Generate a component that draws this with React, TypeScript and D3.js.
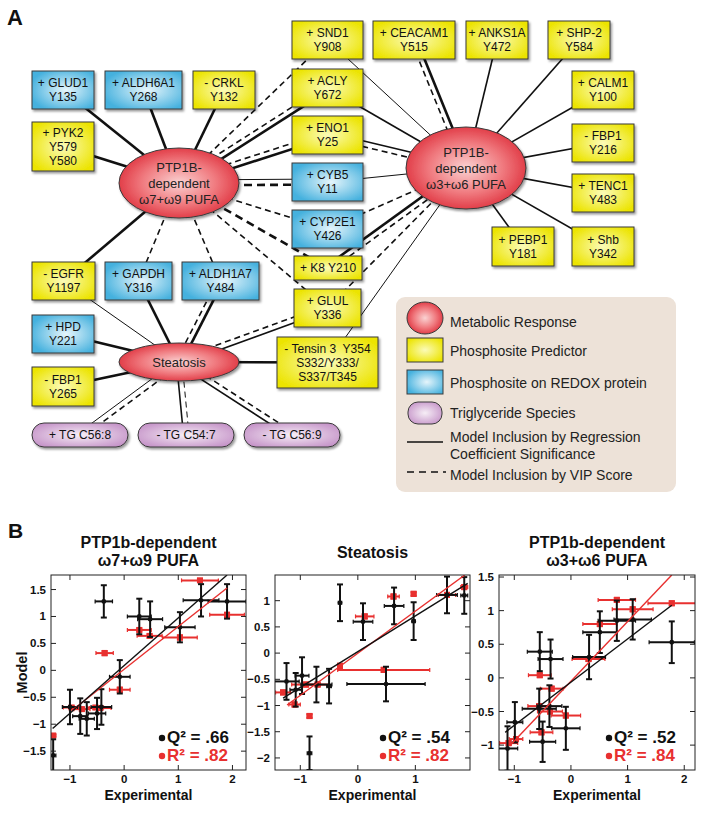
import React from "react";
import * as d3 from "d3";

const W = 704;
const H = 813;
const FONT = "'Liberation Sans', Arial, Helvetica, sans-serif";
const RED = "#e8302f";

// ---------------- Panel A data ----------------
const responseNodes = [
  { id: "L", lines: ["PTP1B-", "dependent", "ω7+ω9 PUFA"] },
  { id: "R", lines: ["PTP1B-", "dependent", "ω3+ω6 PUFA"] },
  { id: "S", lines: ["Steatosis"] },
];

const phosphoNodes = [
  { id: "SND1", kind: "y", lines: ["+ SND1", "Y908"] },
  { id: "ACLY", kind: "y", lines: ["+ ACLY", "Y672"] },
  { id: "ENO1", kind: "y", lines: ["+ ENO1", "Y25"] },
  { id: "CYB5", kind: "b", lines: ["+ CYB5", "Y11"] },
  { id: "CYP2E1", kind: "b", lines: ["+ CYP2E1", "Y426"] },
  { id: "K8", kind: "y", lines: ["+ K8 Y210"] },
  { id: "GLUL", kind: "y", lines: ["+ GLUL", "Y336"] },
  { id: "Tensin", kind: "y", lines: ["- Tensin 3  Y354", "S332/Y333/", "S337/T345"] },
  { id: "CEACAM1", kind: "y", lines: ["+ CEACAM1", "Y515"] },
  { id: "ANKS1A", kind: "y", lines: ["+ ANKS1A", "Y472"] },
  { id: "SHP2", kind: "y", lines: ["+ SHP-2", "Y584"] },
  { id: "CALM1", kind: "y", lines: ["+ CALM1", "Y100"] },
  { id: "FBP1a", kind: "y", lines: ["- FBP1", "Y216"] },
  { id: "TENC1", kind: "y", lines: ["+ TENC1", "Y483"] },
  { id: "Shb", kind: "y", lines: ["+ Shb", "Y342"] },
  { id: "PEBP1", kind: "y", lines: ["+ PEBP1", "Y181"] },
  { id: "GLUD1", kind: "b", lines: ["+ GLUD1", "Y135"] },
  { id: "ALDH6A1", kind: "b", lines: ["+ ALDH6A1", "Y268"] },
  { id: "CRKL", kind: "y", lines: ["- CRKL", "Y132"] },
  { id: "PYK2", kind: "y", lines: ["+ PYK2", "Y579", "Y580"] },
  { id: "EGFR", kind: "y", lines: ["- EGFR", "Y1197"] },
  { id: "GAPDH", kind: "b", lines: ["+ GAPDH", "Y316"] },
  { id: "ALDH1A7", kind: "b", lines: ["+ ALDH1A7", "Y484"] },
  { id: "HPD", kind: "b", lines: ["+ HPD", "Y221"] },
  { id: "FBP1b", kind: "y", lines: ["- FBP1", "Y265"] },
  { id: "TG1", kind: "p", lines: ["+ TG C56:8"] },
  { id: "TG2", kind: "p", lines: ["- TG C54:7"] },
  { id: "TG3", kind: "p", lines: ["- TG C56:9"] },
];

// source, target, style (s solid / d dashed), weight class
const edges: [string, string, string, string][] = [
  ["L", "GLUD1", "s", "thick"],
  ["L", "ALDH6A1", "s", "thick"],
  ["L", "CRKL", "s", "thick"],
  ["L", "PYK2", "s", "thick"],
  ["L", "SND1", "d", "mid"],
  ["L", "ACLY", "s", "thick"],
  ["L", "ACLY", "d", "mid"],
  ["L", "ENO1", "s", "thick"],
  ["L", "ENO1", "d", "mid"],
  ["L", "CYB5", "d", "thick"],
  ["L", "CYB5", "s", "thin"],
  ["L", "CYP2E1", "d", "mid"],
  ["L", "K8", "d", "thick"],
  ["L", "GLUL", "d", "mid"],
  ["L", "EGFR", "s", "thick"],
  ["L", "GAPDH", "d", "mid"],
  ["L", "ALDH1A7", "d", "mid"],
  ["R", "SND1", "s", "thin"],
  ["R", "CEACAM1", "s", "thick"],
  ["R", "CEACAM1", "d", "mid"],
  ["R", "ANKS1A", "s", "mid"],
  ["R", "SHP2", "s", "mid"],
  ["R", "CALM1", "s", "mid"],
  ["R", "FBP1a", "s", "mid"],
  ["R", "TENC1", "s", "mid"],
  ["R", "Shb", "s", "mid"],
  ["R", "PEBP1", "s", "mid"],
  ["R", "ACLY", "s", "mid"],
  ["R", "ENO1", "s", "mid"],
  ["R", "ENO1", "d", "mid"],
  ["R", "CYB5", "s", "thin"],
  ["R", "CYP2E1", "d", "mid"],
  ["R", "K8", "s", "thick"],
  ["R", "K8", "d", "mid"],
  ["R", "GLUL", "d", "mid"],
  ["R", "Tensin", "s", "thin"],
  ["S", "EGFR", "s", "thin"],
  ["S", "GAPDH", "s", "thick"],
  ["S", "ALDH1A7", "s", "thick"],
  ["S", "ALDH1A7", "d", "mid"],
  ["S", "HPD", "s", "thick"],
  ["S", "FBP1b", "s", "thick"],
  ["S", "GLUL", "s", "mid"],
  ["S", "GLUL", "d", "mid"],
  ["S", "Tensin", "s", "thick"],
  ["S", "TG1", "s", "thin"],
  ["S", "TG1", "d", "mid"],
  ["S", "TG2", "s", "mid"],
  ["S", "TG2", "d", "thin"],
  ["S", "TG3", "s", "mid"],
  ["S", "TG3", "d", "mid"],
];

const legendItems = [
  { kind: "e", lines: ["Metabolic Response"] },
  { kind: "y", lines: ["Phosphosite Predictor"] },
  { kind: "b", lines: ["Phosphosite on REDOX protein"] },
  { kind: "p", lines: ["Triglyceride Species"] },
  { kind: "s", lines: ["Model Inclusion by Regression", "Coefficient Significance"] },
  { kind: "d", lines: ["Model Inclusion by VIP Score"] },
];

// ---------------- Panel A layout ----------------
const responseLayout: Record<string, [number, number, number, number]> = {
  L: [179, 183, 60, 35],
  R: [466, 168, 60, 41],
  S: [179, 362, 60, 19],
};
const boxLayout: Record<string, [number, number, number, number]> = {
  SND1: [292, 21, 71, 38],
  ACLY: [292, 69, 71, 38],
  ENO1: [292, 116, 71, 38],
  CYB5: [292, 163, 71, 38],
  CYP2E1: [292, 210, 71, 38],
  K8: [294, 256, 68, 24],
  GLUL: [294, 289, 67, 38],
  Tensin: [277, 337, 101, 51],
  CEACAM1: [373, 21, 82, 38],
  ANKS1A: [466, 21, 62, 38],
  SHP2: [548, 21, 62, 38],
  CALM1: [572, 71, 62, 38],
  FBP1a: [572, 124, 62, 38],
  TENC1: [572, 174, 62, 38],
  Shb: [572, 227, 62, 39],
  PEBP1: [492, 227, 62, 39],
  GLUD1: [32, 71, 62, 38],
  ALDH6A1: [105, 71, 77, 38],
  CRKL: [193, 71, 62, 38],
  PYK2: [32, 122, 62, 49],
  EGFR: [32, 262, 63, 38],
  GAPDH: [105, 262, 67, 38],
  ALDH1A7: [182, 262, 77, 38],
  HPD: [32, 315, 62, 38],
  FBP1b: [32, 367, 62, 39],
  TG1: [32, 423, 96, 24],
  TG2: [138, 423, 96, 24],
  TG3: [244, 423, 96, 24],
};
const weightWidth: Record<string, number> = { thick: 2.6, mid: 1.6, thin: 1.0 };

// ---------------- Panel B data ----------------
// [experimental, model, xErr, yErr]
const omega79Q: number[][] = [
  [-0.375, 1.28, 0.16, 0.3],
  [0.28, 1.0, 0.22, 0.33],
  [0.48, 0.95, 0.23, 0.33],
  [1.03, 0.8, 0.28, 0.28],
  [1.42, 1.3, 0.33, 0.3],
  [1.9, 1.28, 0.35, 0.32],
  [-0.08, -0.12, 0.19, 0.31],
  [-1.0, -0.68, 0.14, 0.32],
  [-0.81, -0.85, 0.14, 0.33],
  [-0.69, -0.9, 0.14, 0.31],
  [-0.5, -0.8, 0.16, 0.29],
  [-0.42, -0.68, 0.19, 0.33],
  [-1.31, -1.58, 0.05, 0.3],
];
const omega79R: number[][] = [
  [1.4, 1.67, 0.34, 0.03],
  [1.9, 1.03, 0.32, 0.04],
  [0.28, 0.75, 0.22, 0.03],
  [0.47, 0.64, 0.23, 0.03],
  [1.03, 0.61, 0.32, 0.04],
  [-0.36, 0.32, 0.16, 0.04],
  [-0.08, -0.36, 0.19, 0.04],
  [-1.31, -1.21, 0.05, 0.03],
  [-0.97, -0.69, 0.15, 0.03],
  [-0.78, -0.72, 0.15, 0.03],
  [-0.53, -0.69, 0.15, 0.03],
  [-0.44, -0.7, 0.2, 0.03],
];
const omega79LineQ = [[-1.32, -1.08], [1.9, 1.77]];
const omega79LineR = [[-0.97, -0.75], [1.9, 1.53]];

const steatosisQ: number[][] = [
  [-0.31, 0.96, 0.03, 0.35],
  [0.09, 0.6, 0.17, 0.35],
  [0.63, 0.9, 0.17, 0.35],
  [0.97, 0.61, 0.03, 0.36],
  [1.55, 1.11, 0.18, 0.35],
  [1.85, 1.1, 0.06, 0.35],
  [0.49, -0.59, 0.68, 0.33],
  [-1.24, -0.54, 0.22, 0.35],
  [-1.08, -0.7, 0.1, 0.32],
  [-0.97, -0.43, 0.12, 0.35],
  [-0.72, -0.6, 0.27, 0.34],
  [-0.5, -0.63, 0.04, 0.33],
  [-0.84, -1.91, 0.04, 0.32],
];
const steatosisR: number[][] = [
  [0.12, 0.7, 0.16, 0.04],
  [0.62, 1.08, 0.1, 0.04],
  [0.97, 1.13, 0.04, 0.04],
  [1.55, 1.11, 0.15, 0.04],
  [1.85, 1.26, 0.06, 0.04],
  [-0.31, -0.25, 0.03, 0.05],
  [0.45, -0.32, 0.8, 0.04],
  [-1.3, -0.75, 0.13, 0.04],
  [-1.1, -0.98, 0.1, 0.04],
  [-0.84, -1.2, 0.04, 0.04],
  [-0.9, -0.6, 0.25, 0.04],
  [-0.7, -0.6, 0.2, 0.04],
];
const steatosisLineQ = [[-1.3, -0.86], [1.91, 1.33]];
const steatosisLineR = [[-1.23, -0.99], [1.86, 1.49]];

const omega36Q: number[][] = [
  [-1.12, -1.05, 0.18, 0.33],
  [-0.99, -0.66, 0.14, 0.3],
  [-0.55, 0.39, 0.22, 0.29],
  [-0.36, 0.28, 0.22, 0.29],
  [-0.56, -0.46, 0.3, 0.3],
  [-0.38, -0.42, 0.22, 0.31],
  [-0.5, -0.95, 0.23, 0.3],
  [-0.09, -0.75, 0.25, 0.32],
  [0.32, 0.31, 0.29, 0.33],
  [0.51, 0.68, 0.3, 0.31],
  [0.81, 0.85, 0.33, 0.3],
  [1.09, 0.87, 0.33, 0.3],
  [1.78, 0.53, 0.4, 0.31],
];
const omega36R: number[][] = [
  [-1.1, -0.97, 0.16, 0.03],
  [-0.97, -0.91, 0.12, 0.03],
  [-0.55, 0.04, 0.2, 0.03],
  [-0.34, -0.16, 0.2, 0.03],
  [-0.56, -0.42, 0.2, 0.03],
  [-0.37, -0.5, 0.22, 0.03],
  [-0.52, -0.81, 0.2, 0.03],
  [-0.09, -0.56, 0.26, 0.03],
  [0.31, 0.28, 0.29, 0.03],
  [0.51, 0.8, 0.3, 0.03],
  [0.81, 1.16, 0.33, 0.03],
  [1.09, 1.02, 0.36, 0.03],
  [1.78, 1.11, 0.42, 0.03],
];
const omega36LineQ = [[-1.16, -0.81], [1.78, 1.08]];
const omega36LineR = [[-1.08, -1.01], [1.78, 1.53]];

const ticks79X = [-1, 0, 1, 2];
const ticks79Y = [-1.5, -1, -0.5, 0, 0.5, 1, 1.5];
const ticksStX = [-1, 0, 1];
const ticksStY = [-2, -1.5, -1, -0.5, 0, 0.5, 1];
const ticks36X = [-1, 0, 1, 2];
const ticks36Y = [-1, -0.5, 0, 0.5, 1, 1.5];

// ---------------- Panel A components ----------------
function center(id: string): [number, number] {
  if (responseLayout[id]) return [responseLayout[id][0], responseLayout[id][1]];
  const b = boxLayout[id];
  return [b[0] + b[2] / 2, b[1] + b[3] / 2];
}

const gradId: Record<string, string> = { y: "gY", b: "gB", p: "gP", e: "gE" };

function Network() {
  const pairCount: Record<string, number> = {};
  edges.forEach(([s, t]) => {
    const k = s + "-" + t;
    pairCount[k] = (pairCount[k] || 0) + 1;
  });
  const pairSeen: Record<string, number> = {};
  return (
    <g>
      <g>
        {edges.map(([s, t, st, w], i) => {
          const k = s + "-" + t;
          const n = pairCount[k];
          const idx = pairSeen[k] || 0;
          pairSeen[k] = idx + 1;
          const off = n > 1 ? (idx === 0 ? 2.5 : -3) : 0;
          const [x1, y1] = center(s);
          const [x2, y2] = center(t);
          const len = Math.hypot(x2 - x1, y2 - y1);
          const nx = -(y2 - y1) / len;
          const ny = (x2 - x1) / len;
          const sw = weightWidth[w];
          return (
            <line
              key={i}
              x1={x1 + nx * off}
              y1={y1 + ny * off}
              x2={x2 + nx * off}
              y2={y2 + ny * off}
              stroke="#111"
              strokeWidth={sw}
              strokeDasharray={st === "d" ? (sw > 2 ? "8,5" : "6,4") : undefined}
            />
          );
        })}
      </g>
      <g>
        {phosphoNodes.map((nd) => {
          const [bx, by, bw, bh] = boxLayout[nd.id];
          const cx = bx + bw / 2;
          const cy = by + bh / 2;
          const nL = nd.lines.length;
          const sp = nL === 3 ? 13.7 : 14;
          return (
            <g key={nd.id}>
              <rect
                x={bx}
                y={by}
                width={bw}
                height={bh}
                rx={nd.kind === "p" ? 12 : 0}
                fill={`url(#${gradId[nd.kind]})`}
                stroke="#3a3a3a"
                strokeWidth={1}
                filter="url(#shadow)"
              />
              <text
                fontFamily={FONT}
                fontSize={12}
                textAnchor="middle"
                fill="#111"
                style={{ whiteSpace: "pre" }}
              >
                {nd.lines.map((ln, i) => (
                  <tspan key={i} x={cx} y={cy + 4.3 + (i - (nL - 1) / 2) * sp}>
                    {ln}
                  </tspan>
                ))}
              </text>
            </g>
          );
        })}
      </g>
      <g>
        {responseNodes.map((nd) => {
          const [cx, cy, rx, ry] = responseLayout[nd.id];
          const nL = nd.lines.length;
          return (
            <g key={nd.id}>
              <ellipse
                cx={cx}
                cy={cy}
                rx={rx}
                ry={ry}
                fill="url(#gE)"
                stroke="#3a3a3a"
                strokeWidth={1}
                filter="url(#shadow)"
              />
              <text fontFamily={FONT} fontSize={13} textAnchor="middle" fill="#222">
                {nd.lines.map((ln, i) => (
                  <tspan key={i} x={cx} y={cy + 5 + (i - (nL - 1) / 2) * 16}>
                    {ln}
                  </tspan>
                ))}
              </text>
            </g>
          );
        })}
      </g>
    </g>
  );
}

function Legend() {
  const bx = 396, by = 297, bw = 280, bh = 195;
  const rowY = [318, 350, 382, 413, 442, 472];
  const textY = [327, 356, 388, 418, 442, 480];
  return (
    <g>
      <rect x={bx} y={by} width={bw} height={bh} rx={9} fill="#ede2d8" />
      {legendItems.map((it, i) => {
        const y = rowY[i];
        let sym: React.ReactNode = null;
        if (it.kind === "e")
          sym = <ellipse cx={425} cy={y} rx={18} ry={16} fill="url(#gE)" stroke="#3a3a3a" />;
        else if (it.kind === "y" || it.kind === "b")
          sym = <rect x={407} y={y - 12} width={36} height={24} fill={`url(#${gradId[it.kind]})`} stroke="#3a3a3a" />;
        else if (it.kind === "p")
          sym = <rect x={408} y={y - 11} width={34} height={22} rx={10} fill="url(#gP)" stroke="#3a3a3a" />;
        else if (it.kind === "s")
          sym = <line x1={407} x2={443} y1={y} y2={y} stroke="#111" strokeWidth={1.5} />;
        else
          sym = <line x1={407} x2={446} y1={y} y2={y} stroke="#111" strokeWidth={1.5} strokeDasharray="7,5" />;
        return (
          <g key={i}>
            {sym}
            <text fontFamily={FONT} fontSize={14} fill="#222">
              {it.lines.map((ln, j) => (
                <tspan key={j} x={450} y={textY[i] + j * 17}>
                  {ln}
                </tspan>
              ))}
            </text>
          </g>
        );
      })}
    </g>
  );
}

// ---------------- Panel B components ----------------
type ScatterProps = {
  id: string;
  box: [number, number, number, number];
  xDom: [number, number];
  yDom: [number, number];
  xTicks: number[];
  yTicks: number[];
  q: number[][];
  r: number[][];
  lineQ: number[][];
  lineR: number[][];
  qText: string;
  rText: string;
  title: string[];
  yLabel: boolean;
  legendX: number;
};

const fmt = (v: number) => (v < 0 ? "\u2212" : "") + String(Math.abs(v));

function ErrPoint({ d, x, y, color, square }: any) {
  const [vx, vy, ex, ey] = d;
  const px = x(vx);
  const py = y(vy);
  const cap = 3;
  return (
    <g stroke={color} strokeWidth={2}>
      <line x1={x(vx - ex)} x2={x(vx + ex)} y1={py} y2={py} />
      <line x1={px} x2={px} y1={y(vy + ey)} y2={y(vy - ey)} />
      <line x1={px - cap} x2={px + cap} y1={y(vy + ey)} y2={y(vy + ey)} />
      <line x1={px - cap} x2={px + cap} y1={y(vy - ey)} y2={y(vy - ey)} />
      <line x1={x(vx - ex)} x2={x(vx - ex)} y1={py - 2} y2={py + 2} strokeWidth={1.2} />
      <line x1={x(vx + ex)} x2={x(vx + ex)} y1={py - 2} y2={py + 2} strokeWidth={1.2} />
      {square ? (
        <rect x={px - 3} y={py - 3} width={6} height={6} fill={color} stroke="none" />
      ) : (
        <circle cx={px} cy={py} r={2.4} fill={color} stroke="none" />
      )}
    </g>
  );
}

function Scatter(p: ScatterProps) {
  const [l, t, rgt, b] = p.box;
  const x = d3.scaleLinear().domain(p.xDom).range([l, rgt]);
  const y = d3.scaleLinear().domain(p.yDom).range([b, t]);
  const line = d3
    .line<number[]>()
    .x((d) => x(d[0]))
    .y((d) => y(d[1]));
  const cx = (l + rgt) / 2;
  const tk = 5;
  return (
    <g>
      <defs>
        <clipPath id={"clip" + p.id}>
          <rect x={l} y={t} width={rgt - l} height={b - t} />
        </clipPath>
      </defs>
      <rect x={l} y={t} width={rgt - l} height={b - t} fill="#fff" />
      <g clipPath={`url(#clip${p.id})`}>
        {p.r.map((d, i) => (
          <ErrPoint key={"r" + i} d={d} x={x} y={y} color={RED} square />
        ))}
        {p.q.map((d, i) => (
          <ErrPoint key={"q" + i} d={d} x={x} y={y} color="#111" />
        ))}
        <path d={line(p.lineR) || ""} stroke={RED} strokeWidth={1.4} fill="none" />
        <path d={line(p.lineQ) || ""} stroke="#111" strokeWidth={1.4} fill="none" />
      </g>
      <rect x={l} y={t} width={rgt - l} height={b - t} fill="none" stroke="#222" strokeWidth={1} />
      {p.xTicks.map((v) => (
        <g key={"x" + v}>
          <line x1={x(v)} x2={x(v)} y1={b} y2={b - tk} stroke="#222" />
          <line x1={x(v)} x2={x(v)} y1={t} y2={t + tk} stroke="#222" />
          <text x={x(v)} y={b + 13} textAnchor="middle" fontFamily={FONT} fontWeight="bold" fontSize={11.5} fill="#111">
            {fmt(v)}
          </text>
        </g>
      ))}
      {p.yTicks.map((v) => (
        <g key={"y" + v}>
          <line x1={l} x2={l + tk} y1={y(v)} y2={y(v)} stroke="#222" />
          <line x1={rgt} x2={rgt - tk} y1={y(v)} y2={y(v)} stroke="#222" />
          <text x={l - 5} y={y(v) + 4} textAnchor="end" fontFamily={FONT} fontWeight="bold" fontSize={11.5} fill="#111">
            {fmt(v)}
          </text>
        </g>
      ))}
      <text fontFamily={FONT} fontWeight="bold" fontSize={16} textAnchor="middle" fill="#111">
        {p.title.length === 2 ? (
          <>
            <tspan x={cx} y={548}>{p.title[0]}</tspan>
            <tspan x={cx} y={566}>{p.title[1]}</tspan>
          </>
        ) : (
          <tspan x={cx} y={558}>{p.title[0]}</tspan>
        )}
      </text>
      <text x={cx} y={800} textAnchor="middle" fontFamily={FONT} fontWeight="bold" fontSize={14} fill="#111">
        Experimental
      </text>
      {p.yLabel && (
        <text
          transform={`translate(27,${(t + b) / 2}) rotate(-90)`}
          textAnchor="middle"
          fontFamily={FONT}
          fontWeight="bold"
          fontSize={14.5}
          fill="#111"
        >
          Model
        </text>
      )}
      <circle cx={p.legendX} cy={738} r={3.2} fill="#111" />
      <text x={p.legendX + 5} y={743} fontFamily={FONT} fontWeight="bold" fontSize={17} fill="#111">
        {p.qText}
      </text>
      <circle cx={p.legendX} cy={756} r={3.2} fill={RED} />
      <text x={p.legendX + 5} y={761} fontFamily={FONT} fontWeight="bold" fontSize={17} fill={RED}>
        {p.rText}
      </text>
    </g>
  );
}

export default function App() {
  return (
    <svg width={W} height={H} viewBox={`0 0 ${W} ${H}`} style={{ display: "block", position: "absolute", left: 0, top: 0, background: "#fff" }}>
      <defs>
        <radialGradient id="gY" cx="50%" cy="50%" r="60%">
          <stop offset="0%" stopColor="#fbfbb8" />
          <stop offset="100%" stopColor="#ece400" />
        </radialGradient>
        <radialGradient id="gB" cx="55%" cy="50%" r="60%">
          <stop offset="0%" stopColor="#e6f5fb" />
          <stop offset="100%" stopColor="#45b1de" />
        </radialGradient>
        <radialGradient id="gP" cx="50%" cy="50%" r="60%">
          <stop offset="0%" stopColor="#f6eef6" />
          <stop offset="100%" stopColor="#c593c8" />
        </radialGradient>
        <radialGradient id="gE" cx="50%" cy="50%" r="55%">
          <stop offset="0%" stopColor="#fad2d2" />
          <stop offset="55%" stopColor="#f07b80" />
          <stop offset="100%" stopColor="#de2f3b" />
        </radialGradient>
        <filter id="shadow" x="-20%" y="-20%" width="150%" height="160%">
          <feDropShadow dx="1.5" dy="2" stdDeviation="1.2" floodColor="#000" floodOpacity="0.4" />
        </filter>
      </defs>
      <rect x={0} y={0} width={W} height={H} fill="#fff" />
      <text x={7} y={25} fontFamily={FONT} fontWeight="bold" fontSize={22} fill="#111">A</text>
      <Network />
      <Legend />
      <text x={8} y={538} fontFamily={FONT} fontWeight="bold" fontSize={21} fill="#111">B</text>
      <Scatter
        id="p1"
        box={[51, 575, 246, 770]}
        xDom={[-1.35, 2.25]}
        yDom={[-1.85, 1.77]}
        xTicks={ticks79X}
        yTicks={ticks79Y}
        q={omega79Q}
        r={omega79R}
        lineQ={omega79LineQ}
        lineR={omega79LineR}
        qText="Q² = .66"
        rText="R² = .82"
        title={["PTP1b-dependent", "ω7+ω9 PUFA"]}
        yLabel={true}
        legendX={162}
      />
      <Scatter
        id="p2"
        box={[275, 575, 470, 770]}
        xDom={[-1.44, 1.95]}
        yDom={[-2.23, 1.49]}
        xTicks={ticksStX}
        yTicks={ticksStY}
        q={steatosisQ}
        r={steatosisR}
        lineQ={steatosisLineQ}
        lineR={steatosisLineR}
        qText="Q² = .54"
        rText="R² = .82"
        title={["Steatosis"]}
        yLabel={false}
        legendX={383}
      />
      <Scatter
        id="p3"
        box={[499, 575, 695, 770]}
        xDom={[-1.27, 2.19]}
        yDom={[-1.37, 1.53]}
        xTicks={ticks36X}
        yTicks={ticks36Y}
        q={omega36Q}
        r={omega36R}
        lineQ={omega36LineQ}
        lineR={omega36LineR}
        qText="Q² = .52"
        rText="R² = .84"
        title={["PTP1b-dependent", "ω3+ω6 PUFA"]}
        yLabel={false}
        legendX={609}
      />
    </svg>
  );
}
